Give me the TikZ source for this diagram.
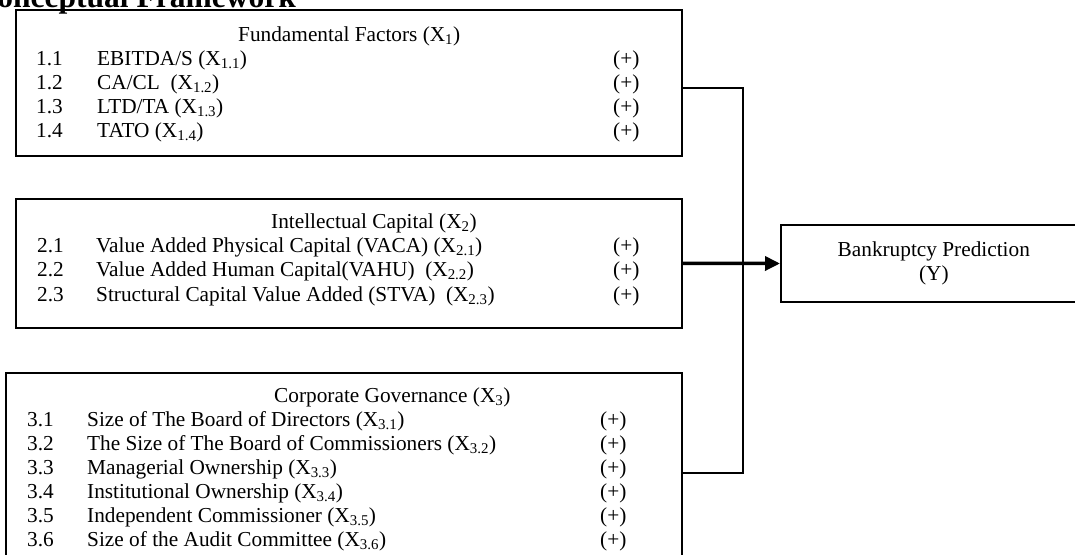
\documentclass[tikz,border=0pt]{standalone}
\usepackage{fontspec}
\setmainfont{Liberation Serif}
\usetikzlibrary{arrows.meta}

\begin{document}
\begin{tikzpicture}[x=1pt,y=-1pt,
    every node/.style={font=\fontsize{21.3pt}{24pt}\selectfont, inner sep=0pt},
    factorbox/.style={draw, line width=1.6pt, anchor=north west},
    link/.style={line width=1.3pt}]
  \clip (0,0) rectangle (1075,554);
  % heading, cut at the top
  \node[anchor=base east, font=\fontsize{31.5pt}{36pt}\selectfont\bfseries] %
  (head) at (296,8) {Conceptual Framework};
  % the three groups of variables
  \node[factorbox, minimum width=666pt, minimum height=146pt] (fund) at (15,9) {};
  \node[factorbox, minimum width=666pt, minimum height=129pt] (intel) at (15,198) {};
  \node[factorbox, minimum width=676pt, minimum height=230pt] (gov) at (5,372) {};
  \node[draw, line width=1.6pt, minimum width=306pt, minimum height=77pt, %
  anchor=west, align=center] (pred) at (780,263.5) {Bankruptcy Prediction\\(Y)};
  % X1
  \node[anchor=base west] (fundhead) at (238,41) {Fundamental Factors (X\textsubscript{1})};
  \foreach \num/\txt [count=\i from 0] in {%
      1.1/{EBITDA/S (X\textsubscript{1.1})},
      1.2/{CA/CL\ \ (X\textsubscript{1.2})},
      1.3/{LTD/TA (X\textsubscript{1.3})},
      1.4/{TATO (X\textsubscript{1.4})}}
    {
      \node[anchor=base west] (fnum\i) at (36,65+24*\i) {\num};
      \node[anchor=base west] (ftxt\i) at (97,65+24*\i) {\txt};
      \node[anchor=base west] (fsgn\i) at (613,65+24*\i) {(+)};
    }
  % X2
  \node[anchor=base west] (intelhead) at (271,228) {Intellectual Capital (X\textsubscript{2})};
  \foreach \num/\txt [count=\i from 0] in {%
      2.1/{Value Added Physical Capital (VACA) (X\textsubscript{2.1})},
      2.2/{Value Added Human Capital(VAHU)\ \ (X\textsubscript{2.2})},
      2.3/{Structural Capital Value Added (STVA)\ \ (X\textsubscript{2.3})}}
    {
      \node[anchor=base west] (inum\i) at (37,252+24.5*\i) {\num};
      \node[anchor=base west] (itxt\i) at (96,252+24.5*\i) {\txt};
      \node[anchor=base west] (isgn\i) at (613,252+24.5*\i) {(+)};
    }
  % X3
  \node[anchor=base west] (govhead) at (274,402) {Corporate Governance (X\textsubscript{3})};
  \foreach \num/\txt [count=\i from 0] in {%
      3.1/{Size of The Board of Directors (X\textsubscript{3.1})},
      3.2/{The Size of The Board of Commissioners (X\textsubscript{3.2})},
      3.3/{Managerial Ownership (X\textsubscript{3.3})},
      3.4/{Institutional Ownership (X\textsubscript{3.4})},
      3.5/{Independent Commissioner (X\textsubscript{3.5})},
      3.6/{Size of the Audit Committee (X\textsubscript{3.6})}}
    {
      \node[anchor=base west] (gnum\i) at (27,426+24*\i) {\num};
      \node[anchor=base west] (gtxt\i) at (87,426+24*\i) {\txt};
      \node[anchor=base west] (gsgn\i) at (600,426+24*\i) {(+)};
    }
  % connectors
  \coordinate (jtop) at (743,88);
  \coordinate (jbot) at (743,473);
  \draw[link] (fund.east |- jtop) -- (jtop) -- (jbot) -- (gov.east |- jbot);
  \draw[line width=3.5pt, -{Triangle[length=15pt,width=14pt]}] (intel.east) -- (pred.west);
\end{tikzpicture}
\end{document}
